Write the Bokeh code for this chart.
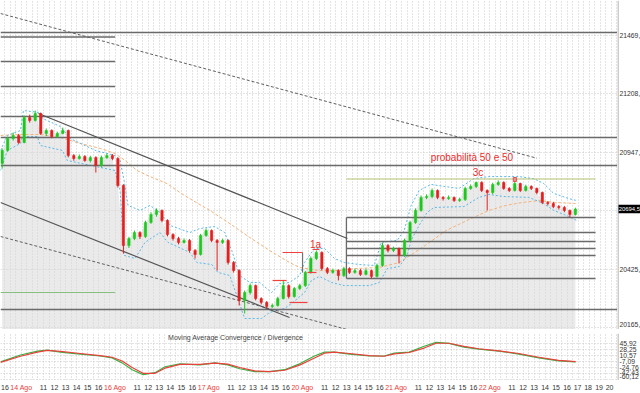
from bokeh.plotting import figure
from bokeh.layouts import column, row
from bokeh.models import Range1d, FixedTicker, ColumnDataSource
from bokeh.core.properties import value
from bokeh.embed import file_html
from bokeh.resources import INLINE

# ---------------- data ----------------
# time axis: trading hours since 14 Ago 09:00 (one session = 8.5 h), 30-min bars
bar_start = -1.75
bar_step = 0.5
o = [20897, 20956, 21009, 21023, 20991, 21103, 21090, 21121, 21032, 21045,
     21018, 21032, 21045, 20933, 20920, 20929, 20911, 20924, 20889, 20924,
     20933, 20920, 20799, 20531, 20562, 20589, 20571, 20634, 20670, 20688,
     20643, 20580, 20562, 20545, 20554, 20509, 20491, 20576, 20598, 20554,
     20545, 20554, 20455, 20419, 20285, 20321, 20352, 20294, 20277, 20259,
     20263, 20294, 20352, 20303, 20339, 20352, 20411, 20473, 20500, 20428,
     20411, 20419, 20397, 20428, 20411, 20419, 20402, 20419, 20393, 20442,
     20531, 20509, 20518, 20487, 20554, 20634, 20688, 20746, 20750, 20777,
     20746, 20741, 20746, 20732, 20737, 20786, 20795, 20813, 20777, 20768,
     20804, 20813, 20786, 20777, 20808, 20777, 20795, 20786, 20768, 20723,
     20719, 20705, 20701, 20688, 20670]
c = [20956, 21009, 21023, 20991, 21103, 21090, 21121, 21032, 21045, 21018,
     21032, 21045, 20933, 20920, 20929, 20911, 20924, 20889, 20924, 20933,
     20920, 20799, 20531, 20562, 20589, 20571, 20634, 20670, 20688, 20643,
     20580, 20562, 20545, 20554, 20509, 20491, 20576, 20598, 20554, 20545,
     20554, 20455, 20419, 20285, 20321, 20352, 20294, 20277, 20259, 20263,
     20294, 20352, 20303, 20339, 20352, 20411, 20473, 20500, 20428, 20411,
     20419, 20397, 20428, 20411, 20419, 20402, 20419, 20393, 20442, 20531,
     20509, 20518, 20487, 20554, 20634, 20688, 20746, 20750, 20777, 20746,
     20741, 20746, 20732, 20737, 20786, 20795, 20813, 20777, 20768, 20804,
     20813, 20786, 20777, 20808, 20777, 20795, 20786, 20768, 20723, 20719,
     20705, 20701, 20688, 20670, 20694]
h = [20965, 21018, 21036, 21030, 21112, 21116, 21134, 21125, 21054, 21050,
     21040, 21058, 21049, 20940, 20938, 20935, 20932, 20930, 20933, 20942,
     20940, 20925, 20805, 20570, 20598, 20595, 20642, 20680, 20697, 20692,
     20648, 20586, 20570, 20563, 20560, 20515, 20583, 20607, 20603, 20560,
     20562, 20558, 20462, 20425, 20330, 20361, 20357, 20300, 20283, 20272,
     20302, 20375, 20358, 20346, 20360, 20418, 20482, 20509, 20505, 20435,
     20428, 20425, 20436, 20434, 20427, 20426, 20428, 20424, 20450, 20544,
     20538, 20526, 20522, 20562, 20642, 20697, 20755, 20760, 20786, 20782,
     20752, 20755, 20750, 20745, 20794, 20804, 20817, 20818, 20782, 20812,
     20822, 20818, 20792, 20822, 20812, 20803, 20800, 20790, 20772, 20730,
     20726, 20712, 20708, 20692, 20700]
l = [20875, 20950, 21000, 20985, 20988, 21080, 21085, 21025, 21020, 21010,
     21012, 21028, 20925, 20910, 20915, 20905, 20902, 20857, 20880, 20918,
     20912, 20790, 20495, 20520, 20555, 20560, 20565, 20628, 20660, 20635,
     20572, 20553, 20536, 20540, 20500, 20473, 20486, 20570, 20546, 20419,
     20538, 20446, 20410, 20263, 20227, 20312, 20286, 20268, 20250, 20252,
     20258, 20290, 20294, 20298, 20332, 20346, 20405, 20466, 20420, 20403,
     20405, 20375, 20390, 20404, 20405, 20395, 20397, 20384, 20388, 20436,
     20500, 20502, 20451, 20480, 20548, 20628, 20682, 20738, 20742, 20738,
     20732, 20735, 20726, 20726, 20730, 20780, 20788, 20770, 20688, 20760,
     20798, 20780, 20770, 20772, 20770, 20772, 20779, 20760, 20716, 20710,
     20698, 20692, 20680, 20656, 20665]

# price channel (cyan dashed)
up_t = [-1.90, -1.27, -0.09, 0.18, 1.72, 1.90, 3.53, 4.43, 6.69, 8.50, 8.95, 9.31, 9.67,
        10.76, 11.66, 12.57, 13.47, 15.28, 16.18, 17.54, 18.44, 19.08, 19.80, 20.71,
        21.61, 22.69, 23.42, 24.32, 25.23, 25.68, 26.58, 27.49, 28.39, 29.29, 30.65,
        32.01, 32.64, 34.09, 34.72, 35.35, 36.08, 37.16, 38.34, 39.69, 41.05, 42.41,
        43.76, 45.12, 46.47, 47.38, 48.28, 49.64, 50.36]
up_v = [20956, 21023, 21045, 21134, 21125, 21099, 21063, 21009, 20956, 20933, 20911, 20822,
        20710, 20688, 20710, 20679, 20621, 20589, 20607, 20616, 20589, 20509, 20397, 20366,
        20366, 20321, 20361, 20366, 20397, 20455, 20518, 20518, 20473, 20455, 20446, 20442,
        20545, 20554, 20598, 20710, 20777, 20804, 20795, 20786, 20830, 20839, 20839, 20839,
        20830, 20808, 20764, 20741, 20732]
lo_t = [-1.90, -1.27, -0.09, 0.09, 1.45, 1.72, 3.71, 4.16, 7.14, 8.50, 8.95, 9.31, 10.31,
        11.21, 12.57, 13.29, 15.28, 15.91, 17.27, 17.81, 18.90, 19.53, 20.25, 21.79, 22.51,
        23.87, 24.50, 25.68, 26.31, 27.03, 28.12, 29.29, 31.56, 32.46, 33.18, 34.27, 34.99,
        35.35, 36.08, 36.80, 37.43, 40.14, 41.50, 42.41, 43.76, 46.02, 47.38, 48.28, 49.64,
        50.36]
lo_v = [20866, 20956, 20987, 21018, 21018, 20978, 20956, 20911, 20880, 20866, 20777, 20487,
        20473, 20545, 20589, 20545, 20500, 20455, 20446, 20411, 20397, 20308, 20205, 20205,
        20232, 20250, 20272, 20321, 20375, 20393, 20366, 20352, 20352, 20366, 20428, 20437,
        20487, 20554, 20621, 20679, 20701, 20705, 20746, 20759, 20750, 20746, 20719, 20688,
        20661, 20643]
# long moving average (orange dashed)
ma_t = [-1.90, -0.09, 1.72, 3.53, 5.33, 7.14, 8.50, 9.40, 10.49, 11.66, 13.20, 14.38, 15.55,
        17.09, 18.90, 20.71, 22.51, 24.32, 25.23, 27.03, 28.84, 30.20, 32.46, 34.27, 36.35,
        38.52, 40.60, 42.41, 43.94, 45.39, 46.93, 48.46, 50.27]
ma_v = [21023, 21027, 21027, 21014, 20987, 20965, 20942, 20911, 20866, 20839, 20808, 20768,
        20732, 20688, 20629, 20567, 20509, 20455, 20433, 20419, 20419, 20428, 20433, 20455,
        20522, 20598, 20647, 20688, 20710, 20723, 20732, 20723, 20719]

# MACD
macd_t = [-1.90, -0.09, 1.45, 2.35, 3.53, 5.33, 7.14, 8.23, 9.13, 10.04, 11.03, 12.12, 13.02,
          14.38, 16.18, 17.54, 18.72, 19.80, 21.16, 22.51, 23.87, 25.23, 26.58, 27.49, 28.39,
          29.75, 31.56, 32.91, 33.82, 35.17, 36.53, 37.61, 38.79, 40.14, 41.50, 43.31, 45.12,
          46.93, 48.73, 50.27]
macd_v = [-8.5, 11.6, 23.0, 25.9, 20.1, 14.4, 8.7, 3.0, -11.4, -31.4, -45.7, -40.0, -22.8,
          -14.2, -17.1, -11.4, -17.1, -28.5, -37.1, -37.1, -31.4, -14.2, 8.7, 20.1, 20.1,
          14.4, 8.7, 8.7, 17.3, 20.1, 37.3, 48.8, 45.9, 34.5, 28.7, 23.0, 14.4, 3.0, -5.6, -8.5]
sig_v = [-10.0, 8.0, 20.0, 25.0, 22.0, 16.0, 10.0, 5.0, -6.0, -25.0, -42.0, -42.0, -27.0,
         -16.0, -16.0, -12.0, -15.0, -25.0, -35.0, -37.0, -33.0, -18.0, 3.0, 17.0, 20.0,
         16.0, 10.0, 8.0, 15.0, 19.0, 32.0, 46.0, 46.0, 37.0, 30.0, 24.0, 16.0, 5.0, -4.0, -8.0]

price_ticks = [20165.3, 20426.1, 20947.7, 21208.5, 21469.3]
price_labels = ["20165,", "20425,", "20947,", "21208,", "21469,"]
grid_prices = [20165.3, 20426.1, 20686.9, 20947.7, 21208.5, 21469.3]
last_price = 20694.5
last_label = "20694,5"
macd_ticks = [45.92, 28.25, 10.57, -7.09, -24.76, -42.43, -60.12]
macd_labels = ["45,92", "28,25", "10,57", "-7,09", "-24,76", "-42,43", "-60,12"]

xl_t = [-1.5, 0, 2, 3, 4, 5, 6, 7, 8.5, 10.5, 11.5, 12.5, 13.5, 14.5, 15.5, 17, 19, 20, 21, 22, 23, 24,
        25.5, 27.5, 28.5, 29.5, 30.5, 31.5, 32.5, 34, 36, 37, 38, 39, 40, 41, 42.5, 44.5, 45.5, 46.5,
        47.5, 48.5, 49.5, 50.45, 51.4, 52.4, 53.35]
xl_text = ["16", "14 Ago", "11", "12", "13", "14", "15", "16", "16 Ago", "11", "12", "13", "14", "15", "16",
           "17 Ago", "11", "12", "13", "14", "15", "16", "20 Ago", "11", "12", "13", "14", "15", "16",
           "21 Ago", "11", "12", "13", "14", "15", "16", "22 Ago", "11", "12", "13", "14", "15", "16",
           "17", "18", "19", "20"]

# drawn objects
hl_p = [21482.8, 21462.7, 21353.3, 21241.6, 21107.5, 21013.7, 20888.6, 20245.2]
hl_t0 = [-1.9, -1.9, -1.9, -1.9, -1.9, -1.9, -1.9, -1.9]
hl_t1 = [60, 8.5, 8.5, 8.5, 8.5, 60, 60, 60]
box_p = [20656.2, 20589.2, 20549.0, 20517.7, 20486.5, 20383.7]
box_t0, box_t1 = 29.48, 52.08
olive_p = 20828.3
green_p = 20321.1
diag_t0 = [1.54, -1.9]
diag_p0 = [21120.9, 20723.3]
diag_t1 = [29.57, 24.32]
diag_p1 = [20562.4, 20209.4]
dash_t0 = [-1.9, -1.9]
dash_p0 = [20571.4, 21567.7]
dash_t1 = [31.56, 46.75]
dash_p1 = [20129.0, 20921.2]
red_t0 = [23.69, 22.78, 24.32, 25.95, 26.40]
red_t1 = [25.50, 24.05, 25.95, 26.76, 27.03]
red_p = [20499.9, 20374.8, 20276.5, 20410.5, 20513.3]
ann_t = [26.67, 41.41, 40.87]
ann_p = [20536.5, 20857.3, 20924.3]
ann_text = ["1a", "3c", "probabilità 50 e 50"]

# ---------------- figures ----------------
X0, X1 = -1.9, 54.07
FONT = "Liberation Sans"
W = 640
AW = 23          # width of the price-scale strip on the right
FW = W - AW
grid_t = [-1.5 + 0.5 * i for i in range(112)]
PY = Range1d(20155.8, 21625.8)
MY = Range1d(-63.0, 74.6)


def bare(fig):
    fig.outline_line_color = None
    fig.min_border_left = 0
    fig.min_border_right = 0
    fig.min_border_top = 0
    fig.min_border_bottom = 0


def dotted_grid(fig, yticks):
    fig.xgrid.ticker = FixedTicker(ticks=grid_t)
    fig.ygrid.ticker = FixedTicker(ticks=yticks)
    for g in (fig.xgrid, fig.ygrid):
        g.grid_line_color = "#c8c8c8"
        g.grid_line_dash = "1 2"


def scale_strip(height, yr, ticks, labels, offsets):
    a = figure(width=AW, height=height, x_range=Range1d(0, AW), y_range=yr,
               output_backend="svg", toolbar_location=None,
               x_axis_location=None, y_axis_location=None)
    bare(a)
    a.xgrid.visible = False
    a.ygrid.visible = False
    a.segment(x0=[0.5], x1=[0.5], y0=[yr.start], y1=[yr.end], line_color="#9a9a9a", line_width=1)
    a.text(x=[2] * len(ticks), y=ticks, text=labels, y_offset=offsets, text_font=value(FONT),
           text_font_size="6.8px", text_color="#333333", text_align="left",
           text_baseline="middle")
    return a


p = figure(width=FW, height=329, x_range=Range1d(X0, X1), y_range=PY,
           output_backend="svg", toolbar_location=None, x_axis_location=None,
           y_axis_location=None)
bare(p)
dotted_grid(p, grid_prices)

bar_t = [bar_start + bar_step * i for i in range(len(c))]
inc = [cc >= oo for oo, cc in zip(o, c)]
src = ColumnDataSource(dict(t=bar_t, o=o, c=c, h=h, l=l,
                            top=[max(a, b) for a, b in zip(o, c)],
                            bot=[min(a, b) for a, b in zip(o, c)],
                            col=["#1ec81e" if f else "#e32020" for f in inc],
                            base=[20100] * len(c)))
p.varea(x="t", y1="base", y2="c", source=src, fill_color="#d9d9d9", fill_alpha=0.55)

# indicators
p.line(ma_t, ma_v, line_color="#f2b27a", line_dash="3 2", line_width=1)
p.line(up_t, up_v, line_color="#5bb8e6", line_dash="2 2", line_width=1)
p.line(lo_t, lo_v, line_color="#5bb8e6", line_dash="2 2", line_width=1)

# horizontal levels
p.segment(x0=hl_t0, x1=hl_t1, y0=hl_p, y1=hl_p, line_color="#6a6a6a", line_width=1.5)
p.segment(x0=[box_t0] * len(box_p), x1=[box_t1] * len(box_p), y0=box_p, y1=box_p,
          line_color="#6a6a6a", line_width=1.3)
p.segment(x0=[box_t0], x1=[box_t0], y0=[box_p[-1]], y1=[box_p[0]], line_color="#6a6a6a", line_width=1.3)
p.segment(x0=[box_t0], x1=[box_t1], y0=[olive_p], y1=[olive_p], line_color="#b4c070", line_width=1.2)
p.segment(x0=[X0], x1=[8.5], y0=[green_p], y1=[green_p], line_color="#86c07e", line_width=1.2)

# trend lines
p.segment(x0=diag_t0, y0=diag_p0, x1=diag_t1, y1=diag_p1, line_color="#555555", line_width=1.2)
p.segment(x0=dash_t0, y0=dash_p0, x1=dash_t1, y1=dash_p1, line_color="#606060", line_width=1,
          line_dash="3 2")

# candles
p.segment(x0="t", x1="t", y0="l", y1="h", source=src, line_color="col", line_width=1)
p.vbar(x="t", width=0.22, top="top", bottom="bot", source=src, fill_color="col", line_color="col",
       line_width=0.5)

# red annotations
p.segment(x0=red_t0, x1=red_t1, y0=red_p, y1=red_p, line_color="#f04040", line_width=1.2)
p.segment(x0=[25.5], x1=[25.5], y0=[20410.5], y1=[20499.9], line_color="#707070", line_width=1.2)
p.rect(x=[44.76], y=[20826], width=0.28, height=18, fill_color="#f59090", line_color="#e05050")
p.text(x=ann_t, y=ann_p, text=ann_text, text_font=value(FONT), text_font_size="10px",
       text_color="#ee2a2a", text_align="center", text_baseline="middle")

# price scale strip with current-price tag
pa = scale_strip(329, PY, price_ticks, price_labels, [-2.5, 0, 0, 0, 0])
pa.rect(x=[AW / 2 + 1], y=[last_price], width=AW, height=38, fill_color="black", line_color=None)
pa.text(x=[1.2], y=[last_price], text=[last_label], text_font=value(FONT), text_font_size="5.9px",
        text_color="white", text_align="left", text_baseline="middle")

# separator bar
sep = figure(width=W, height=4, x_range=Range1d(0, 1), y_range=Range1d(0, 1), output_backend="svg",
             toolbar_location=None, x_axis_location=None, y_axis_location=None,
             background_fill_color="#aab1aa", border_fill_color="#aab1aa")
bare(sep)
sep.xgrid.visible = False
sep.ygrid.visible = False

# MACD panel
m = figure(width=FW, height=47, x_range=p.x_range, y_range=MY,
           output_backend="svg", toolbar_location=None, x_axis_location=None,
           y_axis_location=None)
bare(m)
dotted_grid(m, macd_ticks)
m.line(macd_t, macd_v, line_color="#3cb043", line_width=1.2)
m.line(macd_t, sig_v, line_color="#e8413c", line_width=1.2)
m.text(x=[19.44], y=[61.7], text=["Moving Average Convergence / Divergence"],
       text_font=value(FONT), text_font_size="7px", text_color="#444444",
       text_align="center", text_baseline="middle")
ma_ = scale_strip(47, MY, macd_ticks, macd_labels, [0, 0, 0, 0, 0, -0.5, -3])

# time labels
s = figure(width=W, height=13, x_range=Range1d(X0, X1 + (X1 - X0) * AW / FW), y_range=Range1d(0, 1),
           output_backend="svg", toolbar_location=None, x_axis_location=None,
           y_axis_location=None)
bare(s)
s.xgrid.visible = False
s.ygrid.visible = False
xl_col = ["#e83a3a" if "Ago" in t else "#333333" for t in xl_text]
s.text(x=xl_t, y=[0.5] * len(xl_t), text=xl_text, text_color=xl_col, text_font=value(FONT),
       text_font_size="7px", text_align="center", text_baseline="middle")

layout = column(row(p, pa, spacing=0), sep, row(m, ma_, spacing=0), s, spacing=0)
open("out.html", "w").write(file_html(layout, INLINE))
